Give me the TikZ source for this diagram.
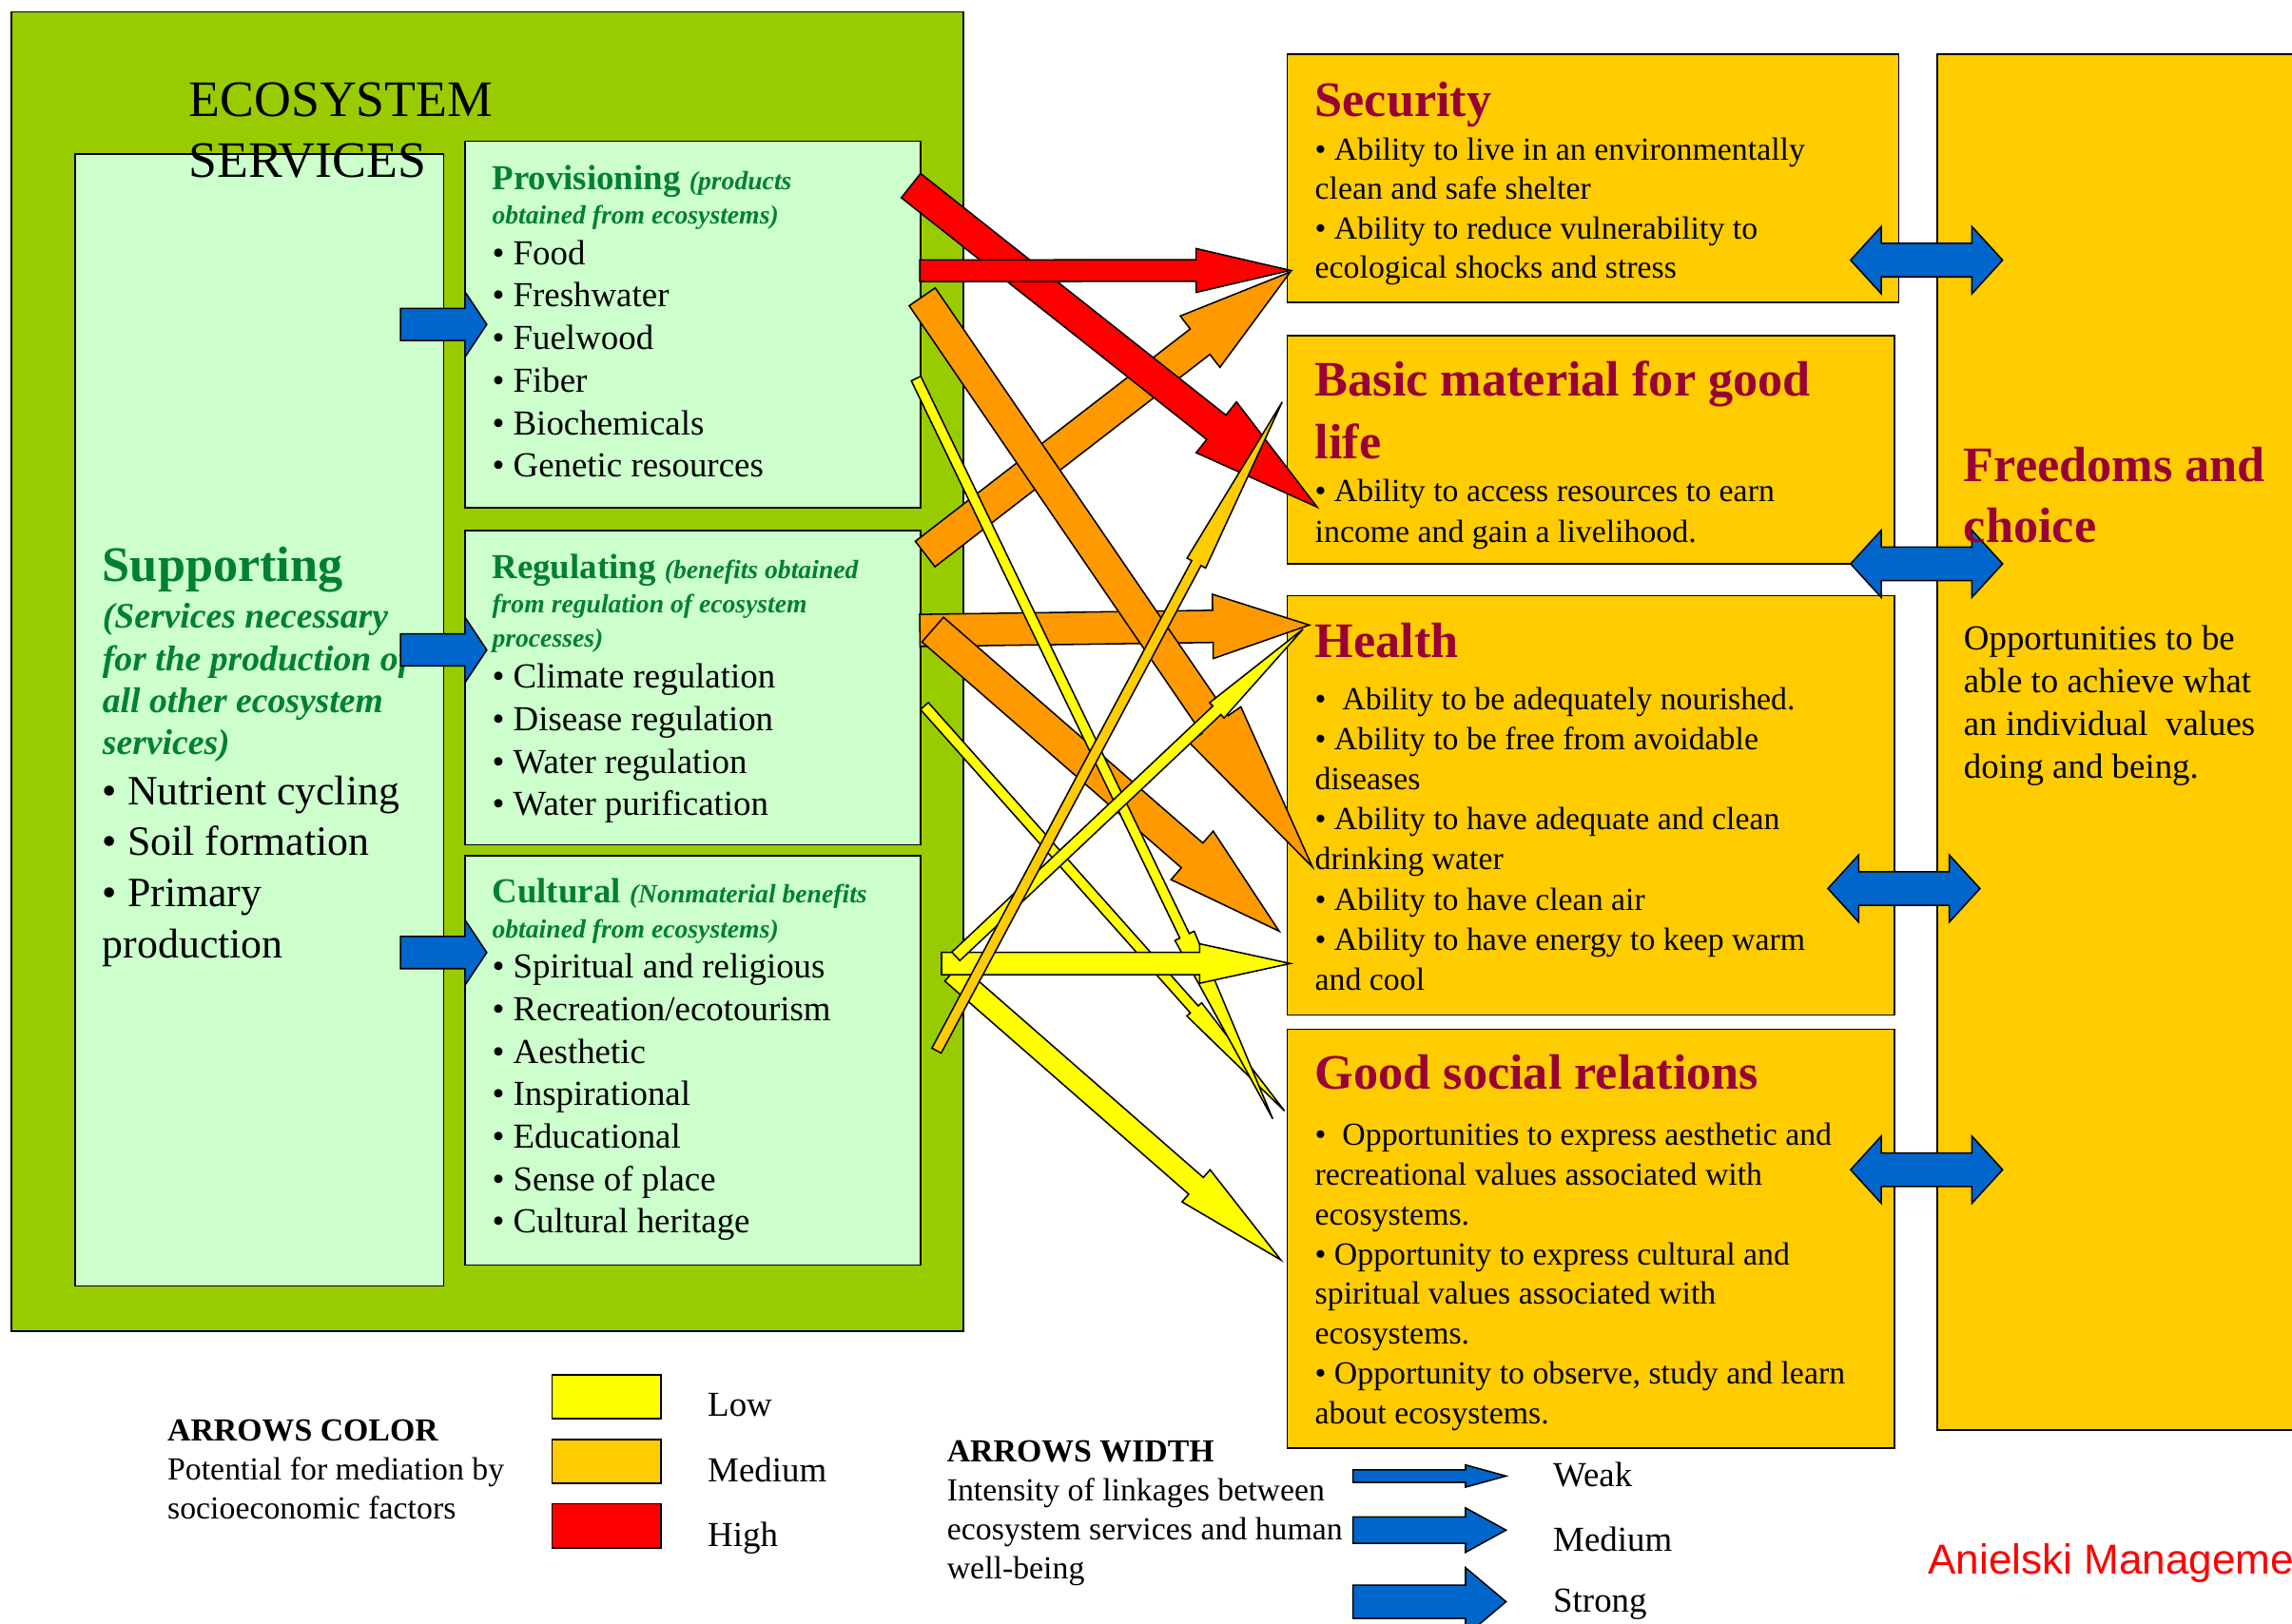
\documentclass[tikz,border=0pt]{standalone}
\usepackage{fontspec}
\setmainfont{Liberation Serif}
\newfontfamily\arialf{Liberation Sans}
\usetikzlibrary{calc}
\definecolor{outergreen}{HTML}{99CC00}
\definecolor{lightgreen}{HTML}{CCFFCC}
\definecolor{textgreen}{RGB}{0,128,51}
\definecolor{boxgold}{HTML}{FFCC00}
\definecolor{titlered}{HTML}{990033}
\definecolor{arrorange}{HTML}{FF9900}
\definecolor{arryellow}{HTML}{FFFF00}
\definecolor{arrred}{HTML}{FF0000}
\definecolor{arrblue}{HTML}{0066CC}
\newcommand\ml[1]{\begin{tabular}[t]{@{}l@{}}#1\end{tabular}}
\newcommand\fs[2]{\fontsize{#1}{#2}\selectfont}
% #1 name, #2 fill, #3 x, #4 y, #5 width, #6 height
\newcommand\boxnode[6]{\node[boxst, fill=#2, minimum width=#5pt, minimum height=#6pt] (#1) at (#3,#4) {};}
% #1 fill, #2 tail, #3 tip, #4 half body, #5 half head, #6 head length
\newcommand\blockarrow[6]{%
  \coordinate (tmpH) at ($(#3)!#6pt!(#2)$);
  \filldraw[arrowline, fill=#1] ($(#2)!#4pt!90:(#3)$) -- ($(tmpH)!#4pt!-90:(#2)$) -- ($(tmpH)!#5pt!-90:(#2)$) -- (#3) -- ($(tmpH)!#5pt!90:(#2)$) -- ($(tmpH)!#4pt!90:(#2)$) -- ($(#2)!#4pt!-90:(#3)$) -- cycle;}
\begin{document}
\begin{tikzpicture}[x=1pt,y=-1pt,
  boxst/.style={draw=black, line width=1.1pt, anchor=north west, inner sep=0pt, outer sep=0pt},
  txt/.style={inner sep=0pt, anchor=base west},
  arrowline/.style={draw=black, line width=1pt, line join=miter},
  dbl/.pic={\filldraw[arrowline, fill=arrblue] (0,0) -- (21,-23) -- (21,-11.5) -- (83,-11.5) -- (83,-23) -- (104,0) -- (83,23) -- (83,11.5) -- (21,11.5) -- (21,23) -- cycle;}]
\useasboundingbox (0,0) rectangle (1568,1111);
\clip (0,0) rectangle (1568,1111);

% ---------- boxes ----------
\boxnode{eco}{outergreen}{7.6}{8.1}{651.4}{902.9}
\boxnode{sup}{lightgreen}{51.6}{105.4}{251.9}{774.6}
\boxnode{prov}{lightgreen}{318.3}{96.7}{311.6}{250.7}
\boxnode{reg}{lightgreen}{318.3}{363}{311.6}{215}
\boxnode{cult}{lightgreen}{318.3}{585.6}{311.6}{280.1}
\boxnode{sec}{boxgold}{880.7}{37.2}{418.3}{169.8}
\boxnode{basic}{boxgold}{880.7}{229.7}{415.1}{156.1}
\boxnode{health}{boxgold}{880.7}{407.6}{415.1}{287}
\boxnode{social}{boxgold}{880.7}{704.2}{415.3}{286.5}
\boxnode{free}{boxgold}{1325.4}{37.2}{300}{941.3}
\boxnode{swlow}{arryellow}{377.6}{940.6}{74.4}{29.9}
\boxnode{swmed}{boxgold}{377.6}{985}{74.4}{30}
\boxnode{swhigh}{arrred}{377.6}{1029}{74.4}{30.4}

% ---------- double arrows between well-being boxes and freedoms ----------
\pic at (1266,178) {dbl};
\pic at (1266,385.8) {dbl};
\pic at (1250.5,608) {dbl};
\pic at (1266,800.4) {dbl};

% ---------- texts: ecosystem services ----------
\node[txt, font=\fs{35}{41.5}] (ecot) at (129,80) {\ml{ECOSYSTEM\\SERVICES}};

\node[txt, font=\fs{34}{40}\bfseries, text=textgreen] (supt) at (70,398) {Supporting};
\node[txt, font=\fs{24.5}{28.7}\bfseries\itshape, text=textgreen] (supi) at (70,430) {\ml{(Services necessary\\for the production of\\all other ecosystem\\services)}};
\node[txt, font=\fs{28.5}{34.9}] (supl) at (70,550.5) {\ml{• Nutrient cycling\\• Soil formation\\• Primary\\production}};

\node[txt, text=textgreen] (provt) at (336.5,130) {{\fs{24}{29}\bfseries Provisioning\ }{\fs{18}{22}\bfseries\itshape (products}};
\node[txt, font=\fs{18}{22}\bfseries\itshape, text=textgreen] (provs) at (336.5,153) {obtained from ecosystems)};
\node[txt, font=\fs{24}{29.1}] (provl) at (336.5,181) {\ml{• Food\\• Freshwater\\• Fuelwood\\• Fiber\\• Biochemicals\\• Genetic resources}};

\node[txt, text=textgreen] (regt) at (336.5,396) {{\fs{24}{29}\bfseries Regulating\ }{\fs{18}{22}\bfseries\itshape (benefits obtained}};
\node[txt, font=\fs{18}{23.2}\bfseries\itshape, text=textgreen] (regs) at (336.5,419.3) {\ml{from regulation of ecosystem\\processes)}};
\node[txt, font=\fs{24}{29}] (regl) at (336.5,471) {\ml{• Climate regulation\\• Disease regulation\\• Water regulation\\• Water purification}};

\node[txt, text=textgreen] (cultt) at (336.5,617.5) {{\fs{24}{29}\bfseries Cultural\ }{\fs{18}{22}\bfseries\itshape (Nonmaterial benefits}};
\node[txt, font=\fs{18}{22}\bfseries\itshape, text=textgreen] (cults) at (336.5,641.6) {obtained from ecosystems)};
\node[txt, font=\fs{24}{29.1}] (cultl) at (336.5,669.2) {\ml{• Spiritual and religious\\• Recreation/ecotourism\\• Aesthetic\\• Inspirational\\• Educational\\• Sense of place\\• Cultural heritage}};

% ---------- texts: well-being ----------
\node[txt, font=\fs{34}{41}\bfseries, text=titlered] (sect) at (899.4,79.6) {Security};
\node[txt, font=\fs{22}{27}] (secl) at (899.4,109.4) {\ml{• Ability to live in an environmentally\\clean and safe shelter\\• Ability to reduce vulnerability to\\ecological shocks and stress}};

\node[txt, font=\fs{34}{42.3}\bfseries, text=titlered] (basict) at (899.4,271.3) {\ml{Basic material for good\\life}};
\node[txt, font=\fs{22}{27.4}] (basicl) at (899.4,343.5) {\ml{• Ability to access resources to earn\\income and gain a livelihood.}};

\node[txt, font=\fs{34}{41}\bfseries, text=titlered] (healtht) at (899.4,449.6) {Health};
\node[txt, font=\fs{22}{27.37}] (healthl) at (899.4,485.8) {\ml{•~ Ability to be adequately nourished.\\• Ability to be free from avoidable\\diseases\\• Ability to have adequate and clean\\drinking water\\• Ability to have clean air\\• Ability to have energy to keep warm\\and cool}};

\node[txt, font=\fs{34}{41}\bfseries, text=titlered] (socialt) at (899.4,745.4) {Good social relations};
\node[txt, font=\fs{22}{27.26}] (sociall) at (899.4,783.6) {\ml{•~ Opportunities to express aesthetic and\\recreational values associated with\\ecosystems.\\• Opportunity to express cultural and\\spiritual values associated with\\ecosystems.\\• Opportunity to observe, study and learn\\about ecosystems.}};

\node[txt, font=\fs{34}{41.6}\bfseries, text=titlered] (freet) at (1343.3,329.3) {\ml{Freedoms and\\choice}};
\node[txt, font=\fs{24}{29.3}] (freel) at (1343.3,444.6) {\ml{Opportunities to be\\able to achieve what\\an individual~ values\\doing and being.}};

% ---------- legend texts ----------
\node[txt, font=\fs{22}{26.5}\bfseries] (colt) at (114.4,985.7) {ARROWS COLOR};
\node[txt, font=\fs{22}{26.5}] (coll) at (114.4,1012.8) {\ml{Potential for mediation by\\socioeconomic factors}};
\node[txt, font=\fs{24}{29}] (lowt) at (484,969.4) {Low};
\node[txt, font=\fs{24}{29}] (medt) at (484,1013.9) {Medium};
\node[txt, font=\fs{24}{29}] (hight) at (484,1058) {High};

\node[txt, font=\fs{22}{26.7}\bfseries] (widt) at (647.7,1000.4) {ARROWS WIDTH};
\node[txt, font=\fs{22}{26.7}] (widl) at (647.7,1027.1) {\ml{Intensity of linkages between\\ecosystem services and human\\well-being}};
\node[txt, font=\fs{24}{29}] (weakt) at (1062.4,1017.1) {Weak};
\node[txt, font=\fs{24}{29}] (mediumt) at (1062.4,1061.6) {Medium};
\node[txt, font=\fs{24}{29}] (strongt) at (1062.4,1102.8) {Strong};

\node[txt, font=\arialf\fs{28.7}{34}, text=arrred] (aniel) at (1318.8,1076.8) {Anielski Management};

% ---------- blue arrows from Supporting ----------
\coordinate (b1a) at (274,222);   \coordinate (b1b) at (333,222);
\coordinate (b2a) at (274,444.7); \coordinate (b2b) at (333,444.7);
\coordinate (b3a) at (274,651.8); \coordinate (b3b) at (333,651.8);
\blockarrow{arrblue}{b1a}{b1b}{11}{22.5}{15}
\blockarrow{arrblue}{b2a}{b2b}{11}{22.5}{15}
\blockarrow{arrblue}{b3a}{b3b}{11}{22.5}{15}

% ---------- legend width arrows ----------
\coordinate (lwa) at (925.6,1010);   \coordinate (lwb) at (1030.3,1010);
\coordinate (lma) at (925.6,1047);   \coordinate (lmb) at (1030.3,1047);
\coordinate (lsa) at (925.6,1096);   \coordinate (lsb) at (1030.3,1096);
\blockarrow{arrblue}{lwa}{lwb}{4.3}{7.6}{27.7}
\blockarrow{arrblue}{lma}{lmb}{9}{15.2}{27.7}
\blockarrow{arrblue}{lsa}{lsb}{11.4}{23.3}{27.7}

% ---------- linkage arrows ----------
\coordinate (o4a) at (629.3,431.4); \coordinate (o4b) at (895.7,427.7);
\coordinate (o3a) at (632.9,379.1); \coordinate (o3b) at (882.7,186.1);
\coordinate (o6a) at (638.1,430.8); \coordinate (o6b) at (875.1,637.2);
\coordinate (o5a) at (630.9,203.1); \coordinate (o5b) at (897.8,593.2);
\coordinate (r1a) at (623.2,127.0); \coordinate (r1b) at (901.1,347.0);
\coordinate (r2a) at (629.3,185.3); \coordinate (r2b) at (882.7,185.0);
\coordinate (y12a) at (651.4,665.6); \coordinate (y12b) at (876.2,862.1);
\coordinate (y8a) at (632.4,483.1); \coordinate (y8b) at (878.8,760.2);
\coordinate (y7a) at (626.7,259.0); \coordinate (y7b) at (870.7,765.6);
\coordinate (y11a) at (644.1,659.3); \coordinate (y11b) at (882.7,659.3);
\coordinate (y10a) at (653.9,654.4); \coordinate (y10b) at (891.4,430.5);
\coordinate (g9a) at (640.7,718.9); \coordinate (g9b) at (877.2,275.0);

\blockarrow{arrorange}{o4a}{o4b}{11}{22}{66}
\blockarrow{arrorange}{o3a}{o3b}{11}{22.2}{78}
\blockarrow{arrorange}{o6a}{o6b}{11.2}{22}{79}
\blockarrow{arrorange}{o5a}{o5b}{10.8}{21.5}{118}
\blockarrow{arrred}{r1a}{r1b}{10.6}{22.2}{88}
\blockarrow{arrred}{r2a}{r2b}{7.4}{15}{64.4}
\blockarrow{arryellow}{y12a}{y12b}{7.6}{14.6}{77}
\blockarrow{arryellow}{y8a}{y8b}{3.6}{6.8}{93}
\blockarrow{arryellow}{y7a}{y7b}{3.6}{7.3}{139}
\blockarrow{arryellow}{y11a}{y11b}{7.6}{13.5}{62}
\blockarrow{arryellow}{y10a}{y10b}{4}{7.2}{81}
\blockarrow{boxgold}{g9a}{g9b}{3.6}{7.2}{125}
\end{tikzpicture}
\end{document}
